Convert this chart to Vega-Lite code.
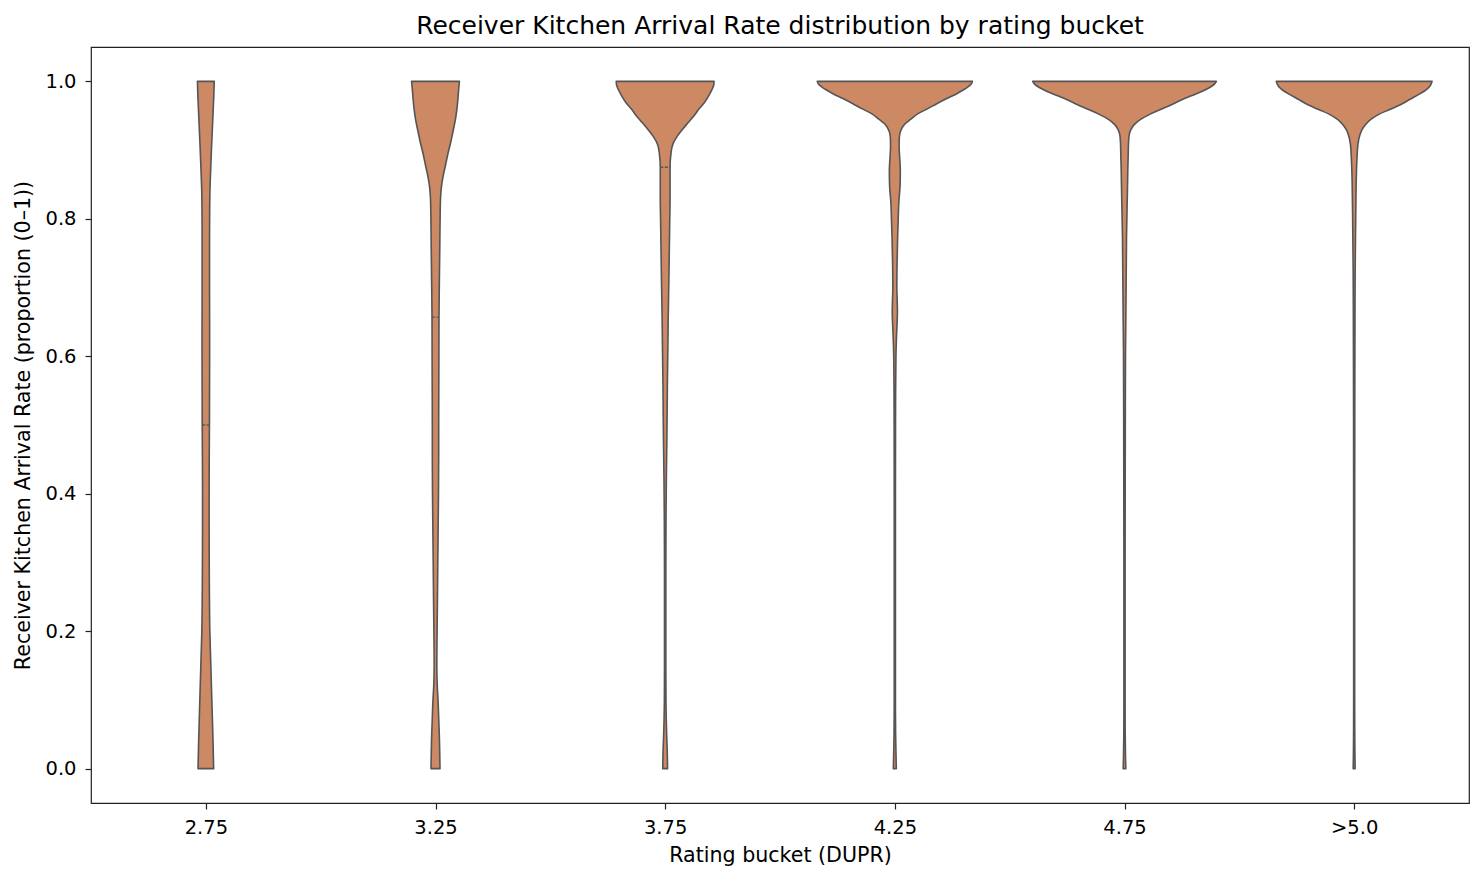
{
  "$schema": "https://vega.github.io/schema/vega-lite/v6.json",
  "description": "Violin plot of receiver kitchen arrival rate by rating bucket",
  "width": 1378,
  "height": 756,
  "autosize": {"type": "none"},
  "padding": {"left": 91, "top": 47, "right": 15, "bottom": 78},
  "background": "white",
  "title": {
    "text": "Receiver Kitchen Arrival Rate distribution by rating bucket",
    "font": "DejaVu Sans",
    "fontSize": 25,
    "fontWeight": "normal",
    "color": "#000",
    "offset": 8
  },
  "config": {
    "view": {"stroke": "#222", "strokeWidth": 1.2},
    "axis": {
      "labelFont": "DejaVu Sans",
      "labelFontSize": 19.5,
      "labelColor": "#000",
      "titleFont": "DejaVu Sans",
      "titleFontSize": 20.6,
      "titleFontWeight": "normal",
      "titleColor": "#000",
      "tickColor": "#222",
      "tickWidth": 1.2,
      "tickSize": 6,
      "domain": false,
      "grid": false
    }
  },
  "datasets": {
    "violin": [
      {"bucket": "2.75", "value": 1.0, "w": 0.0366},
      {"bucket": "2.75", "value": 0.98, "w": 0.0348},
      {"bucket": "2.75", "value": 0.96, "w": 0.0322},
      {"bucket": "2.75", "value": 0.93, "w": 0.0283},
      {"bucket": "2.75", "value": 0.9, "w": 0.0244},
      {"bucket": "2.75", "value": 0.87, "w": 0.0209},
      {"bucket": "2.75", "value": 0.84, "w": 0.0178},
      {"bucket": "2.75", "value": 0.8, "w": 0.0165},
      {"bucket": "2.75", "value": 0.75, "w": 0.0161},
      {"bucket": "2.75", "value": 0.7, "w": 0.0161},
      {"bucket": "2.75", "value": 0.65, "w": 0.0165},
      {"bucket": "2.75", "value": 0.6, "w": 0.0165},
      {"bucket": "2.75", "value": 0.55, "w": 0.0161},
      {"bucket": "2.75", "value": 0.5, "w": 0.0157},
      {"bucket": "2.75", "value": 0.45, "w": 0.0148},
      {"bucket": "2.75", "value": 0.4, "w": 0.0144},
      {"bucket": "2.75", "value": 0.35, "w": 0.0144},
      {"bucket": "2.75", "value": 0.3, "w": 0.0148},
      {"bucket": "2.75", "value": 0.25, "w": 0.0157},
      {"bucket": "2.75", "value": 0.2, "w": 0.0174},
      {"bucket": "2.75", "value": 0.16, "w": 0.0209},
      {"bucket": "2.75", "value": 0.12, "w": 0.0244},
      {"bucket": "2.75", "value": 0.08, "w": 0.0279},
      {"bucket": "2.75", "value": 0.04, "w": 0.0313},
      {"bucket": "2.75", "value": 0.0, "w": 0.034},

      {"bucket": "3.25", "value": 1.0, "w": 0.1043},
      {"bucket": "3.25", "value": 0.99, "w": 0.1013},
      {"bucket": "3.25", "value": 0.975, "w": 0.0978},
      {"bucket": "3.25", "value": 0.963, "w": 0.0943},
      {"bucket": "3.25", "value": 0.945, "w": 0.087},
      {"bucket": "3.25", "value": 0.929, "w": 0.0774},
      {"bucket": "3.25", "value": 0.91, "w": 0.0652},
      {"bucket": "3.25", "value": 0.895, "w": 0.0543},
      {"bucket": "3.25", "value": 0.878, "w": 0.0435},
      {"bucket": "3.25", "value": 0.861, "w": 0.0326},
      {"bucket": "3.25", "value": 0.845, "w": 0.0252},
      {"bucket": "3.25", "value": 0.828, "w": 0.0217},
      {"bucket": "3.25", "value": 0.8, "w": 0.02},
      {"bucket": "3.25", "value": 0.76, "w": 0.0187},
      {"bucket": "3.25", "value": 0.7, "w": 0.0165},
      {"bucket": "3.25", "value": 0.657, "w": 0.0152},
      {"bucket": "3.25", "value": 0.6, "w": 0.0148},
      {"bucket": "3.25", "value": 0.55, "w": 0.0143},
      {"bucket": "3.25", "value": 0.5, "w": 0.0139},
      {"bucket": "3.25", "value": 0.456, "w": 0.0139},
      {"bucket": "3.25", "value": 0.4, "w": 0.013},
      {"bucket": "3.25", "value": 0.355, "w": 0.0117},
      {"bucket": "3.25", "value": 0.3, "w": 0.01},
      {"bucket": "3.25", "value": 0.253, "w": 0.0087},
      {"bucket": "3.25", "value": 0.2, "w": 0.007},
      {"bucket": "3.25", "value": 0.152, "w": 0.0057},
      {"bucket": "3.25", "value": 0.12, "w": 0.0078},
      {"bucket": "3.25", "value": 0.098, "w": 0.0113},
      {"bucket": "3.25", "value": 0.07, "w": 0.0143},
      {"bucket": "3.25", "value": 0.05, "w": 0.0165},
      {"bucket": "3.25", "value": 0.025, "w": 0.0183},
      {"bucket": "3.25", "value": 0.0, "w": 0.0196},

      {"bucket": "3.75", "value": 1.0, "w": 0.213},
      {"bucket": "3.75", "value": 0.995, "w": 0.2117},
      {"bucket": "3.75", "value": 0.99, "w": 0.2065},
      {"bucket": "3.75", "value": 0.98, "w": 0.1913},
      {"bucket": "3.75", "value": 0.97, "w": 0.1726},
      {"bucket": "3.75", "value": 0.96, "w": 0.1478},
      {"bucket": "3.75", "value": 0.949, "w": 0.123},
      {"bucket": "3.75", "value": 0.94, "w": 0.1},
      {"bucket": "3.75", "value": 0.929, "w": 0.0726},
      {"bucket": "3.75", "value": 0.92, "w": 0.0522},
      {"bucket": "3.75", "value": 0.909, "w": 0.0339},
      {"bucket": "3.75", "value": 0.895, "w": 0.0252},
      {"bucket": "3.75", "value": 0.875, "w": 0.0213},
      {"bucket": "3.75", "value": 0.85, "w": 0.0213},
      {"bucket": "3.75", "value": 0.828, "w": 0.0213},
      {"bucket": "3.75", "value": 0.8, "w": 0.02},
      {"bucket": "3.75", "value": 0.76, "w": 0.0183},
      {"bucket": "3.75", "value": 0.72, "w": 0.0165},
      {"bucket": "3.75", "value": 0.693, "w": 0.0152},
      {"bucket": "3.75", "value": 0.65, "w": 0.013},
      {"bucket": "3.75", "value": 0.625, "w": 0.0122},
      {"bucket": "3.75", "value": 0.557, "w": 0.0096},
      {"bucket": "3.75", "value": 0.49, "w": 0.0078},
      {"bucket": "3.75", "value": 0.422, "w": 0.0052},
      {"bucket": "3.75", "value": 0.35, "w": 0.0035},
      {"bucket": "3.75", "value": 0.287, "w": 0.003},
      {"bucket": "3.75", "value": 0.2, "w": 0.003},
      {"bucket": "3.75", "value": 0.152, "w": 0.003},
      {"bucket": "3.75", "value": 0.1, "w": 0.0035},
      {"bucket": "3.75", "value": 0.071, "w": 0.0048},
      {"bucket": "3.75", "value": 0.05, "w": 0.0065},
      {"bucket": "3.75", "value": 0.03, "w": 0.0087},
      {"bucket": "3.75", "value": 0.0, "w": 0.0105},

      {"bucket": "4.25", "value": 1.0, "w": 0.3378},
      {"bucket": "4.25", "value": 0.996, "w": 0.3326},
      {"bucket": "4.25", "value": 0.992, "w": 0.3187},
      {"bucket": "4.25", "value": 0.987, "w": 0.2957},
      {"bucket": "4.25", "value": 0.982, "w": 0.2696},
      {"bucket": "4.25", "value": 0.975, "w": 0.2261},
      {"bucket": "4.25", "value": 0.9675, "w": 0.1826},
      {"bucket": "4.25", "value": 0.96, "w": 0.1413},
      {"bucket": "4.25", "value": 0.953, "w": 0.1013},
      {"bucket": "4.25", "value": 0.945, "w": 0.0696},
      {"bucket": "4.25", "value": 0.938, "w": 0.0435},
      {"bucket": "4.25", "value": 0.931, "w": 0.0296},
      {"bucket": "4.25", "value": 0.924, "w": 0.0217},
      {"bucket": "4.25", "value": 0.915, "w": 0.0191},
      {"bucket": "4.25", "value": 0.905, "w": 0.0187},
      {"bucket": "4.25", "value": 0.89, "w": 0.0209},
      {"bucket": "4.25", "value": 0.87, "w": 0.0239},
      {"bucket": "4.25", "value": 0.85, "w": 0.023},
      {"bucket": "4.25", "value": 0.822, "w": 0.017},
      {"bucket": "4.25", "value": 0.8, "w": 0.0148},
      {"bucket": "4.25", "value": 0.773, "w": 0.0122},
      {"bucket": "4.25", "value": 0.74, "w": 0.01},
      {"bucket": "4.25", "value": 0.7, "w": 0.0087},
      {"bucket": "4.25", "value": 0.68, "w": 0.0104},
      {"bucket": "4.25", "value": 0.665, "w": 0.0113},
      {"bucket": "4.25", "value": 0.65, "w": 0.01},
      {"bucket": "4.25", "value": 0.63, "w": 0.0074},
      {"bucket": "4.25", "value": 0.6, "w": 0.0048},
      {"bucket": "4.25", "value": 0.55, "w": 0.0035},
      {"bucket": "4.25", "value": 0.5, "w": 0.003},
      {"bucket": "4.25", "value": 0.4, "w": 0.0026},
      {"bucket": "4.25", "value": 0.3, "w": 0.0026},
      {"bucket": "4.25", "value": 0.2, "w": 0.0026},
      {"bucket": "4.25", "value": 0.1, "w": 0.0026},
      {"bucket": "4.25", "value": 0.05, "w": 0.0035},
      {"bucket": "4.25", "value": 0.02, "w": 0.0052},
      {"bucket": "4.25", "value": 0.0, "w": 0.0065},

      {"bucket": "4.75", "value": 1.0, "w": 0.4},
      {"bucket": "4.75", "value": 0.996, "w": 0.3913},
      {"bucket": "4.75", "value": 0.991, "w": 0.3709},
      {"bucket": "4.75", "value": 0.986, "w": 0.3413},
      {"bucket": "4.75", "value": 0.981, "w": 0.3057},
      {"bucket": "4.75", "value": 0.974, "w": 0.2543},
      {"bucket": "4.75", "value": 0.966, "w": 0.2043},
      {"bucket": "4.75", "value": 0.959, "w": 0.1565},
      {"bucket": "4.75", "value": 0.952, "w": 0.11},
      {"bucket": "4.75", "value": 0.945, "w": 0.0717},
      {"bucket": "4.75", "value": 0.937, "w": 0.0422},
      {"bucket": "4.75", "value": 0.93, "w": 0.0283},
      {"bucket": "4.75", "value": 0.922, "w": 0.0204},
      {"bucket": "4.75", "value": 0.91, "w": 0.0174},
      {"bucket": "4.75", "value": 0.893, "w": 0.0161},
      {"bucket": "4.75", "value": 0.87, "w": 0.0143},
      {"bucket": "4.75", "value": 0.845, "w": 0.013},
      {"bucket": "4.75", "value": 0.81, "w": 0.0109},
      {"bucket": "4.75", "value": 0.772, "w": 0.0087},
      {"bucket": "4.75", "value": 0.7, "w": 0.007},
      {"bucket": "4.75", "value": 0.65, "w": 0.0057},
      {"bucket": "4.75", "value": 0.6, "w": 0.0043},
      {"bucket": "4.75", "value": 0.5, "w": 0.0035},
      {"bucket": "4.75", "value": 0.4, "w": 0.003},
      {"bucket": "4.75", "value": 0.3, "w": 0.0026},
      {"bucket": "4.75", "value": 0.2, "w": 0.0026},
      {"bucket": "4.75", "value": 0.1, "w": 0.0026},
      {"bucket": "4.75", "value": 0.05, "w": 0.003},
      {"bucket": "4.75", "value": 0.02, "w": 0.0043},
      {"bucket": "4.75", "value": 0.0, "w": 0.0057},

      {"bucket": ">5.0", "value": 1.0, "w": 0.3391},
      {"bucket": ">5.0", "value": 0.996, "w": 0.3348},
      {"bucket": ">5.0", "value": 0.991, "w": 0.3248},
      {"bucket": ">5.0", "value": 0.986, "w": 0.3065},
      {"bucket": ">5.0", "value": 0.981, "w": 0.2813},
      {"bucket": ">5.0", "value": 0.974, "w": 0.2435},
      {"bucket": ">5.0", "value": 0.966, "w": 0.2013},
      {"bucket": ">5.0", "value": 0.959, "w": 0.1543},
      {"bucket": ">5.0", "value": 0.952, "w": 0.1074},
      {"bucket": ">5.0", "value": 0.945, "w": 0.0739},
      {"bucket": ">5.0", "value": 0.937, "w": 0.0491},
      {"bucket": ">5.0", "value": 0.93, "w": 0.0348},
      {"bucket": ">5.0", "value": 0.922, "w": 0.0248},
      {"bucket": ">5.0", "value": 0.908, "w": 0.0161},
      {"bucket": ">5.0", "value": 0.89, "w": 0.0126},
      {"bucket": ">5.0", "value": 0.869, "w": 0.01},
      {"bucket": ">5.0", "value": 0.82, "w": 0.0074},
      {"bucket": ">5.0", "value": 0.77, "w": 0.0057},
      {"bucket": ">5.0", "value": 0.724, "w": 0.0043},
      {"bucket": ">5.0", "value": 0.65, "w": 0.0035},
      {"bucket": ">5.0", "value": 0.5, "w": 0.0026},
      {"bucket": ">5.0", "value": 0.3, "w": 0.0022},
      {"bucket": ">5.0", "value": 0.1, "w": 0.0022},
      {"bucket": ">5.0", "value": 0.03, "w": 0.003},
      {"bucket": ">5.0", "value": 0.0, "w": 0.0043}
    ],
    "medians": [
      {"bucket": "2.75", "median": 0.5, "w": 0.0157},
      {"bucket": "3.25", "median": 0.657, "w": 0.0152},
      {"bucket": "3.75", "median": 0.875, "w": 0.0213}
    ]
  },
  "layer": [
    {
      "data": {"name": "violin"},
      "transform": [
        {"calculate": "indexof(['2.75','3.25','3.75','4.25','4.75','>5.0'], datum.bucket)", "as": "pos"},
        {"calculate": "datum.pos - datum.w", "as": "lo"},
        {"calculate": "datum.pos + datum.w", "as": "hi"}
      ],
      "mark": {
        "type": "area",
        "orient": "horizontal",
        "interpolate": "monotone",
        "fill": "#CC8963",
        "fillOpacity": 1,
        "stroke": "#555555",
        "strokeWidth": 1.6,
        "strokeJoin": "round"
      },
      "encoding": {
        "y": {
          "field": "value",
          "type": "quantitative",
          "scale": {"domain": [-0.05, 1.05], "nice": false, "zero": false},
          "axis": {
            "values": [0, 0.2, 0.4, 0.6, 0.8, 1.0],
            "format": ".1f",
            "labelPadding": 9,
            "titlePadding": 11,
            "title": "Receiver Kitchen Arrival Rate (proportion (0–1))"
          }
        },
        "x": {
          "field": "lo",
          "type": "quantitative",
          "scale": {"domain": [-0.5, 5.5], "nice": false, "zero": false},
          "axis": {
            "values": [0, 1, 2, 3, 4, 5],
            "labelExpr": "['2.75','3.25','3.75','4.25','4.75','>5.0'][datum.value]",
            "labelPadding": 9,
            "titlePadding": 9,
            "title": "Rating bucket (DUPR)"
          }
        },
        "x2": {"field": "hi"},
        "detail": {"field": "bucket", "type": "nominal"}
      }
    },
    {
      "data": {"name": "medians"},
      "transform": [
        {"calculate": "indexof(['2.75','3.25','3.75','4.25','4.75','>5.0'], datum.bucket)", "as": "pos"},
        {"calculate": "datum.pos - datum.w", "as": "lo"},
        {"calculate": "datum.pos + datum.w", "as": "hi"}
      ],
      "mark": {"type": "rule", "stroke": "#555555", "strokeWidth": 1.4, "strokeDash": [3, 1.5]},
      "encoding": {
        "y": {"field": "median", "type": "quantitative"},
        "x": {"field": "lo", "type": "quantitative"},
        "x2": {"field": "hi"}
      }
    }
  ]
}
